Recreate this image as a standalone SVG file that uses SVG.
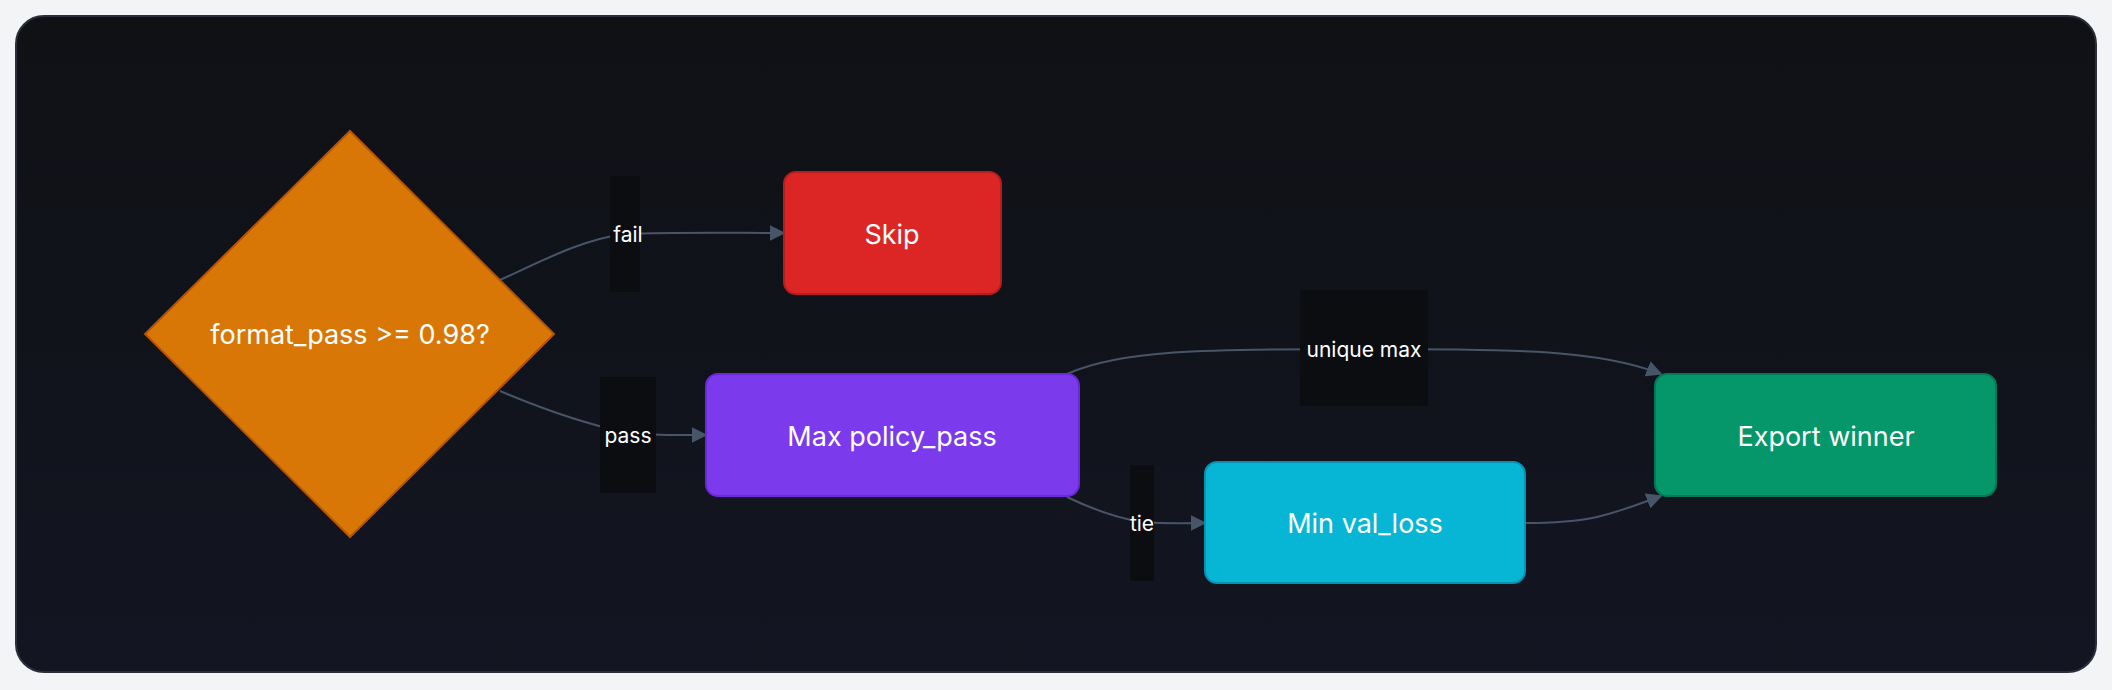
<svg xmlns="http://www.w3.org/2000/svg" width="2112" height="690" viewBox="0 0 2112 690">
<defs>
<marker id="ah" viewBox="0 0 10 10" refX="10" refY="5" markerWidth="8" markerHeight="8" markerUnits="userSpaceOnUse" orient="auto"><path d="M0,0 L10,5 L0,10 z" fill="#475569"/></marker>
<marker id="a" viewBox="0 0 10 10" refX="9" refY="5" markerWidth="16" markerHeight="16" markerUnits="userSpaceOnUse" orient="auto"><path d="M0,0 L10,5 L0,10 z" fill="#475569"/></marker>
<linearGradient id="bg" x1="0" y1="0" x2="0" y2="1"><stop offset="0" stop-color="#0f1115"/><stop offset="1" stop-color="#131522"/></linearGradient>
</defs>
<style>
.t{font-family:Inter,"Noto Sans",sans-serif;fill:#fff;text-anchor:middle;dominant-baseline:central}
.n{font-size:27px}
.l{font-size:21px}
.e{fill:none;stroke:#475569;stroke-width:2}
.lb{fill:#0c0d11}
</style>
<rect width="2112" height="690" fill="#f3f4f6"/>
<rect x="16" y="16" width="2080" height="656" rx="28" fill="url(#bg)" stroke="#2a2f3a" stroke-width="2"/>
<g id="connectors">
<path class="e" marker-end="url(#a)" d="M500,280 C540,262 580,240 624,234 C680,232 730,233 784,233"/>
<path class="e" marker-end="url(#a)" d="M500,391 C545,410 590,425 628,433 C660,436 680,435 706,435"/>
<path class="e" marker-end="url(#a)" d="M1067,374 C1120,350 1200,349 1364,349 C1520,349 1600,350 1661,374"/>
<path class="e" marker-end="url(#a)" d="M1067,497 C1090,508 1115,518 1142,522 C1170,524 1185,523 1205,523"/>
<path class="e" marker-end="url(#a)" d="M1525,523 C1590,523 1610,515 1661,496"/>
<rect class="lb" x="610" y="176" width="30" height="116"/>
<text class="t l" x="628" y="234">fail</text>
<rect class="lb" x="600" y="377" width="56" height="116"/>
<text class="t l" x="628" y="435">pass</text>
<rect class="lb" x="1300" y="290" width="128" height="116"/>
<text class="t l" x="1364" y="349">unique max</text>
<rect class="lb" x="1130" y="465" width="24" height="116"/>
<text class="t l" x="1142" y="523">tie</text>
</g>
<g id="decision"><polygon points="350,131 554,334 350,537 145,334" fill="#d97706" stroke="#b45309" stroke-width="2"/><text class="t n" x="350" y="334">format_pass &gt;= 0.98?</text></g>
<g id="skip"><rect x="784" y="172" width="217" height="122" rx="12" fill="#dc2626" stroke="#b91c1c" stroke-width="2"/><text class="t n" x="892" y="234">Skip</text></g>
<g id="maxpolicy"><rect x="706" y="374" width="373" height="122" rx="12" fill="#7c3aed" stroke="#6d28d9" stroke-width="2"/><text class="t n" x="892" y="436">Max policy_pass</text></g>
<g id="minval"><rect x="1205" y="462" width="320" height="121" rx="12" fill="#06b6d4" stroke="#0891b2" stroke-width="2"/><text class="t n" x="1365" y="523">Min val_loss</text></g>
<g id="export"><rect x="1655" y="374" width="341" height="122" rx="12" fill="#059669" stroke="#047857" stroke-width="2"/><text class="t n" x="1826" y="436">Export winner</text></g>
</svg>
